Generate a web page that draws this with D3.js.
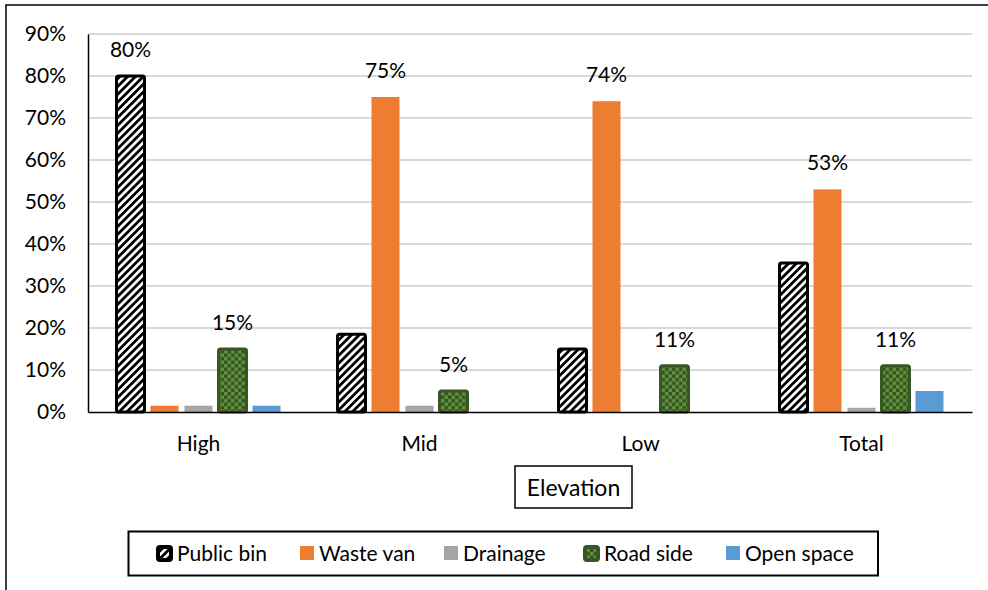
<!DOCTYPE html>
<html>
<head>
<meta charset="utf-8">
<script src="https://cdn.jsdelivr.net/npm/d3@7"></script>
<style>
  html, body { margin: 0; padding: 0; background: #fff; }
  svg { display: block; font-family: Lato, "Open Sans", sans-serif; }
</style>
</head>
<body>
<svg id="chart" width="988" height="590"></svg>
<script>
// Elevation groups and the share of respondents for each disposal method (%)
const categories = ["High", "Mid", "Low", "Total"];
const seriesNames = ["Public bin", "Waste van", "Drainage", "Road side", "Open space"];
const publicBin = [80, 18.5, 15, 35.5];
const wasteVan  = [1.5, 75, 74, 53];
const drainage  = [1.5, 1.5, 0, 1];
const roadSide  = [15, 5, 11, 11];
const openSpace = [1.5, 0, 0, 5];
// Which bars carry a value label (per series, per category)
const labelled = {
  "Public bin": [true, false, false, false],
  "Waste van":  [false, true, true, true],
  "Drainage":   [false, false, false, false],
  "Road side":  [true, true, true, true],
  "Open space": [false, false, false, false]
};
const yTicks = [0, 10, 20, 30, 40, 50, 60, 70, 80, 90];
const axisTitle = "Elevation";

const seriesValues = [publicBin, wasteVan, drainage, roadSide, openSpace];
const fills = ["url(#hatch)", "#ED7D31", "#A5A5A5", "url(#checks)", "#5B9BD5"];
const strokes = ["#000000", null, null, "#375623", null];

const svg = d3.select("#chart");

// Patterns: diagonal hatch for public bin, checkerboard for road side
const defs = svg.append("defs");
const hatch = defs.append("pattern")
  .attr("id", "hatch").attr("patternUnits", "userSpaceOnUse")
  .attr("width", 5.5).attr("height", 5.5)
  .attr("patternTransform", "rotate(45)");
hatch.append("rect").attr("width", 5.5).attr("height", 5.5).attr("fill", "#fff");
hatch.append("rect").attr("width", 2.8).attr("height", 5.5).attr("fill", "#000");

const checks = defs.append("pattern")
  .attr("id", "checks").attr("patternUnits", "userSpaceOnUse")
  .attr("width", 7).attr("height", 7);
checks.append("rect").attr("width", 7).attr("height", 7).attr("fill", "#375623");
checks.append("rect").attr("width", 3.5).attr("height", 3.5).attr("fill", "#5E8F3A");
checks.append("rect").attr("x", 3.5).attr("y", 3.5).attr("width", 3.5).attr("height", 3.5).attr("fill", "#5E8F3A");

// Outer frame (top and left edges)
svg.append("path")
  .attr("d", "M6,590 V5 H988")
  .attr("fill", "none").attr("stroke", "#000").attr("stroke-width", 1.5);

const plot = { left: 88, right: 972, top: 34, bottom: 412 };

const x = d3.scaleBand().domain(categories).range([plot.left, plot.right]).padding(0);
const xs = d3.scaleBand().domain(seriesNames).range([0, x.bandwidth()])
  .paddingInner(0).paddingOuter(0.75);
const y = d3.scaleLinear().domain([0, 90]).range([plot.bottom, plot.top]);
const barW = 28;

// Gridlines
svg.append("g").selectAll("line").data(yTicks.filter(t => t > 0)).join("line")
  .attr("x1", plot.left).attr("x2", plot.right)
  .attr("y1", d => y(d)).attr("y2", d => y(d))
  .attr("stroke", "#D9D9D9").attr("stroke-width", 2);

// Y axis labels
const yAxis = d3.axisLeft(y).tickValues(yTicks).tickFormat(d => d + "%").tickSize(0).tickPadding(22);
const gy = svg.append("g").attr("transform", `translate(${plot.left},0)`).call(yAxis);
gy.select(".domain").attr("stroke", "#000").attr("stroke-width", 1.5);
gy.selectAll("text").attr("font-size", 21).attr("fill", "#000").attr("font-family", "Lato");

// Bars
seriesNames.forEach((name, si) => {
  const g = svg.append("g");
  const data = categories.map((c, ci) => ({ c, v: seriesValues[si][ci], ci }))
    .filter(d => d.v > 0);
  g.selectAll("rect").data(data).join("rect")
    .attr("x", d => x(d.c) + xs(name) + (xs.bandwidth() - barW) / 2)
    .attr("y", d => y(d.v))
    .attr("width", barW)
    .attr("height", d => y(0) - y(d.v))
    .attr("fill", fills[si])
    .attr("stroke", strokes[si] || "none")
    .attr("stroke-width", strokes[si] ? 3 : 0)
    .attr("rx", strokes[si] ? 2 : 0);
  g.selectAll("text").data(data.filter(d => labelled[name][d.ci])).join("text")
    .attr("x", d => x(d.c) + xs(name) + xs.bandwidth() / 2)
    .attr("y", d => y(d.v) - 19)
    .attr("text-anchor", "middle")
    .attr("font-size", 21)
    .attr("fill", "#000")
    .text(d => Math.round(d.v) + "%");
});

// X axis baseline and category labels
const xAxis = d3.axisBottom(x).tickSize(0).tickPadding(24);
const gx = svg.append("g").attr("transform", `translate(0,${plot.bottom})`).call(xAxis);
gx.select(".domain").attr("stroke", "#000").attr("stroke-width", 1.5);
gx.selectAll("text").attr("font-size", 21).attr("fill", "#000").attr("font-family", "Lato");

// Axis title in a box
svg.append("rect").attr("x", 515).attr("y", 466).attr("width", 117).attr("height", 42)
  .attr("fill", "#fff").attr("stroke", "#000").attr("stroke-width", 1.5);
svg.append("text").attr("x", 573.5).attr("y", 496).attr("text-anchor", "middle")
  .attr("font-size", 23).attr("fill", "#000").text(axisTitle);

// Legend
svg.append("rect").attr("x", 128.5).attr("y", 531.5).attr("width", 749.5).attr("height", 44)
  .attr("fill", "#fff").attr("stroke", "#000").attr("stroke-width", 2);
const legendX = [156, 300, 444, 583, 726];
const leg = svg.append("g").selectAll("g").data(seriesNames).join("g")
  .attr("transform", (d, i) => `translate(${legendX[i]},545)`);
leg.append("rect")
  .attr("x", (d, i) => strokes[i] ? 2 : 0).attr("y", (d, i) => strokes[i] ? 2 : 1)
  .attr("width", (d, i) => strokes[i] ? 13 : 14).attr("height", (d, i) => strokes[i] ? 13 : 14)
  .attr("rx", (d, i) => strokes[i] ? 2 : 0)
  .attr("fill", (d, i) => fills[i])
  .attr("stroke", (d, i) => strokes[i] || "none")
  .attr("stroke-width", (d, i) => strokes[i] ? 4 : 0);
leg.append("text")
  .attr("x", (d, i) => strokes[i] ? 21 : 19).attr("y", 16)
  .attr("font-size", 21).attr("fill", "#000")
  .text(d => d);
</script>
</body>
</html>
